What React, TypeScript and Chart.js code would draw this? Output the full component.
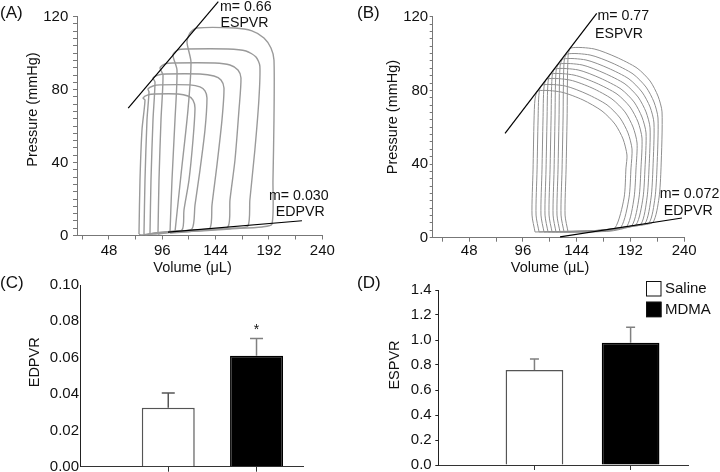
import React, { useEffect, useRef } from 'react';
import { Chart, registerables } from 'chart.js';

Chart.register(...registerables);

const FONT = '"Liberation Sans", Arial, Helvetica, sans-serif';
Chart.defaults.font.family = FONT;
Chart.defaults.color = '#111';

// ---------------- Panel A : PV loops, saline ----------------
const A_X_TICKS = [24, 48, 72, 96, 120, 144, 168, 192, 216, 240];
const A_X_LABELS = [48, 96, 144, 192, 240];
const PV_Y_LABELS = [0, 40, 80, 120];

const A_LOOP_1 = [[107.4,1.9],[112.8,33.2],[119.1,68.9],[121.8,95.1],[118.2,106.1],[120.9,111.1],[127.2,113.8],[161.4,113.8],[176.7,112.2],[187.5,108.3],[193.8,102.8],[196.5,96.2],[196.5,63.4],[195.6,30.5],[194.7,6.3],[185.7,4.7],[156.9,3.6],[129.9,2.5]];
const A_LOOP_2 = [[102.9,1.4],[104.7,30.4],[107.4,63.4],[109.2,90.8],[105.6,99.0],[110.1,101.8],[117.3,102.3],[155.1,102.3],[171.3,101.2],[180.3,97.9],[183.8,92.9],[182.9,74.3],[179.3,46.9],[174.8,19.5],[173.1,5.2],[161.4,4.1],[134.4,3.0],[116.4,1.9]];
const A_LOOP_3 = [[92.1,0.8],[93.0,30.4],[94.8,63.4],[96.6,88.0],[93.9,91.9],[98.4,94.1],[105.6,94.6],[143.4,94.6],[156.9,93.5],[164.1,90.8],[166.8,86.4],[165.0,68.9],[161.4,41.4],[156.9,19.5],[155.1,4.7],[138.9,3.6],[116.4,2.5],[98.4,1.4]];
const A_LOOP_4 = [[84.9,0.8],[85.8,30.4],[87.6,63.4],[89.4,84.2],[87.6,86.4],[92.1,88.0],[99.3,88.6],[129.9,88.6],[142.5,87.5],[148.8,85.3],[151.5,80.9],[149.7,63.4],[145.2,38.7],[140.7,16.7],[138.9,4.1],[125.4,3.0],[102.9,1.9],[89.4,0.8]];
const A_LOOP_5 = [[79.5,0.8],[80.4,30.4],[82.2,63.4],[84.0,78.7],[83.1,80.4],[87.6,82.0],[93.9,82.6],[120.9,82.6],[129.9,81.5],[134.4,79.3],[136.2,75.4],[134.4,57.9],[129.9,35.9],[125.4,16.7],[122.7,3.6],[107.4,2.5],[89.4,1.4],[81.3,0.3]];
const A_LOOP_6 = [[75.0,0.8],[75.9,30.4],[77.7,57.9],[80.4,74.3],[78.6,75.4],[83.1,77.1],[89.4,77.6],[110.1,77.6],[119.1,76.5],[123.6,74.3],[125.4,69.9],[123.6,52.4],[120.0,30.4],[115.5,14.0],[113.7,3.0],[98.4,1.9],[83.1,0.8],[76.8,0.3]];
const A_LOOPS = [A_LOOP_1, A_LOOP_2, A_LOOP_3, A_LOOP_4, A_LOOP_5, A_LOOP_6];
const A_ESPVR = [[65.3, 69.8], [146.4, 128.3]];
const A_EDPVR = [[101.1, 1.9], [221.7, 8.1]];

// ---------------- Panel B : PV loops, MDMA ----------------
const B_X_TICKS = [24, 48, 72, 96, 120, 144, 168, 192, 216, 240];
const B_X_LABELS = [48, 96, 144, 192, 240];

const B_LOOP_1 = [[136.3,3.1],[133.6,12.3],[134.5,36.8],[135.4,63.9],[136.3,98.7],[138.9,103.0],[159.5,102.5],[179.1,98.1],[197.9,92.1],[209.5,85.1],[216.6,76.9],[220.2,68.3],[219.3,37.9],[217.5,21.6],[212.1,8.4],[198.8,6.9],[174.6,3.6]];
const B_LOOP_2 = [[132.7,3.1],[130.0,12.3],[130.9,36.8],[131.8,63.9],[132.7,95.4],[135.4,99.7],[155.9,99.2],[175.5,94.9],[194.3,88.9],[205.9,81.8],[213.0,73.7],[216.6,65.0],[215.7,37.9],[213.9,21.6],[208.6,8.0],[195.2,6.6],[171.1,3.6]];
const B_LOOP_3 = [[129.1,3.1],[126.4,12.3],[127.3,36.8],[128.2,63.9],[129.1,92.7],[131.8,97.0],[152.3,96.5],[172.0,92.1],[190.7,86.2],[202.3,79.1],[209.5,71.0],[213.0,62.3],[212.1,37.9],[210.4,21.6],[205.0,7.7],[191.6,6.2],[167.5,3.6]];
const B_LOOP_4 = [[125.5,3.1],[122.9,12.3],[123.8,36.8],[124.6,63.9],[125.5,90.0],[128.2,94.3],[148.8,93.8],[168.4,89.4],[187.1,83.5],[198.8,76.4],[205.9,68.3],[209.5,59.6],[208.6,37.9],[206.8,21.6],[201.4,7.4],[188.0,5.9],[163.9,3.6]];
const B_LOOP_5 = [[122.0,3.1],[119.3,12.3],[120.2,36.8],[121.1,63.9],[122.0,87.3],[124.6,91.6],[145.2,91.1],[164.8,86.7],[183.6,80.7],[195.2,73.7],[202.3,65.5],[205.9,56.9],[205.0,37.9],[203.2,21.6],[197.0,7.0],[183.6,5.5],[160.4,3.6]];
const B_LOOP_6 = [[118.4,3.1],[115.7,12.3],[116.6,36.8],[117.5,63.9],[118.4,84.5],[121.1,88.9],[141.6,88.3],[161.3,84.0],[180.0,78.0],[191.6,71.0],[198.8,62.8],[202.3,54.1],[201.4,37.9],[199.6,21.6],[193.4,6.7],[180.0,5.2],[156.8,3.6]];
const B_LOOP_7 = [[114.8,3.1],[112.1,12.3],[113.0,36.8],[113.9,63.9],[114.8,81.8],[117.5,86.2],[138.0,85.6],[157.7,81.3],[175.5,75.3],[187.1,68.3],[194.3,60.1],[197.9,51.4],[197.0,37.9],[195.2,21.6],[188.9,6.3],[175.5,4.8],[153.2,3.6]];
const B_LOOP_8 = [[110.4,3.1],[107.7,12.3],[108.6,36.8],[109.5,63.9],[110.4,78.6],[113.0,82.9],[133.6,82.4],[153.2,78.0],[171.1,72.1],[182.7,65.0],[189.8,56.9],[193.4,48.2],[192.5,37.9],[190.7,21.6],[183.6,5.8],[170.2,4.3],[148.8,3.6]];
const B_LOOP_9 = [[106.8,3.1],[104.1,12.3],[105.0,36.8],[105.9,63.9],[106.8,75.3],[109.5,79.7],[130.0,79.1],[149.6,74.8],[166.6,68.8],[178.2,61.7],[185.4,53.6],[188.9,44.9],[188.0,37.9],[186.3,21.6],[178.2,5.3],[164.8,3.9],[145.2,3.6]];
const B_LOOPS = [B_LOOP_1, B_LOOP_2, B_LOOP_3, B_LOOP_4, B_LOOP_5, B_LOOP_6, B_LOOP_7, B_LOOP_8, B_LOOP_9];
const B_ESPVR = [[80.0, 56.7], [161.9, 121.8]];
const B_EDPVR = [[129.1, 0.4], [238.0, 10.7]];

// ---------------- Panels C & D : bars ----------------
const GROUPS = ['Saline', 'MDMA'];
const GROUP_POS = [1, 2];
const GROUP_FILL = ['#ffffff', '#000000'];
const GROUP_BORDER = ['#555555', '#000000'];

const C_VALUES = [0.0325, 0.061];
const C_ERRORS = [0.008, 0.0096];
const C_SIGNIFICANT = [false, true];
const C_Y_TICKS = [0, 0.02, 0.04, 0.06, 0.08, 0.1];

const D_VALUES = [0.76, 0.978];
const D_ERRORS = [0.088, 0.124];
const D_SIGNIFICANT = [false, false];
const D_Y_TICKS = [0, 0.2, 0.4, 0.6, 0.8, 1.0, 1.2, 1.4];

// ---------------- plugins ----------------
function makeTextPlugin(items: any[], left: number, top: number) {
  return {
    id: 'panelText',
    afterDraw(chart: any) {
      const ctx = chart.ctx as CanvasRenderingContext2D;
      for (const it of items) {
        ctx.save();
        ctx.font = `${it.size}px ${FONT}`;
        ctx.fillStyle = '#111';
        ctx.textAlign = it.align || 'center';
        ctx.textBaseline = 'middle';
        ctx.translate(it.x - left, it.y - top);
        if (it.rotate) ctx.rotate(it.rotate);
        ctx.fillText(it.text, 0, 0);
        ctx.restore();
      }
    },
  };
}

function makeErrorBarPlugin(cap: number) {
  return {
    id: 'errorBars',
    afterDatasetsDraw(chart: any) {
      const ctx = chart.ctx as CanvasRenderingContext2D;
      const yScale = chart.scales.y;
      chart.data.datasets.forEach((ds: any, di: number) => {
        const meta = chart.getDatasetMeta(di);
        meta.data.forEach((bar: any, j: number) => {
          const value = ds.data[j].y;
          const base = yScale.getPixelForValue(value);
          const topPx = yScale.getPixelForValue(value + ds.errors[j]);
          ctx.save();
          ctx.strokeStyle = ds.errorColor;
          ctx.lineWidth = 1.5;
          ctx.beginPath();
          ctx.moveTo(bar.x, base);
          ctx.lineTo(bar.x, topPx);
          ctx.moveTo(bar.x - cap / 2, topPx);
          ctx.lineTo(bar.x + cap / 2, topPx);
          ctx.stroke();
          if (ds.significant && ds.significant[j]) {
            ctx.fillStyle = '#111';
            ctx.font = `14px ${FONT}`;
            ctx.textAlign = 'center';
            ctx.textBaseline = 'middle';
            ctx.fillText('*', bar.x, topPx - 8);
          }
          ctx.restore();
        });
      });
    },
  };
}

function makeLegendPlugin(pos: any, left: number, top: number) {
  return {
    id: 'boxLegend',
    afterDraw(chart: any) {
      const ctx = chart.ctx as CanvasRenderingContext2D;
      chart.data.datasets.forEach((ds: any, i: number) => {
        const x = pos.x - left;
        const y = pos.y - top + i * pos.row;
        ctx.save();
        ctx.fillStyle = ds.backgroundColor;
        ctx.fillRect(x, y, pos.box, pos.box);
        ctx.strokeStyle = '#111';
        ctx.lineWidth = 1;
        ctx.strokeRect(x + 0.5, y + 0.5, pos.box - 1, pos.box - 1);
        ctx.fillStyle = '#111';
        ctx.font = `15px ${FONT}`;
        ctx.textAlign = 'left';
        ctx.textBaseline = 'middle';
        ctx.fillText(ds.label, x + pos.box + 3.5, y + pos.box / 2 + 0.5);
        ctx.restore();
      });
    },
  };
}

// keep the chart area exactly where it is specified
function fixY(width: number) {
  return (s: any) => { s.width = width; s.paddingTop = 0; s.paddingBottom = 0; };
}
function fixX(height: number) {
  return (s: any) => { s.height = height; s.paddingLeft = 0; s.paddingRight = 0; };
}

// ---------------- configs ----------------
function pvConfig(p: any) {
  const lineStyle = { showLine: true, pointRadius: 0, pointHoverRadius: 0, pointHitRadius: 0, fill: false };
  const datasets: any[] = [
    { label: 'ESPVR', data: p.espvr.map(([x, y]: number[]) => ({ x, y })), borderColor: '#000', borderWidth: 1.2, tension: 0, clip: false, ...lineStyle },
    { label: 'EDPVR', data: p.edpvr.map(([x, y]: number[]) => ({ x, y })), borderColor: '#000', borderWidth: 1.2, tension: 0, clip: false, ...lineStyle },
    ...p.loops.map((loop: number[][], i: number) => ({
      label: `loop ${i + 1}`,
      data: [...loop, loop[0]].map(([x, y]) => ({ x, y })),
      borderColor: p.loopColor,
      borderWidth: p.loopWidth,
      tension: 0.25,
      ...lineStyle,
    })),
  ];
  return {
    type: 'scatter',
    data: { datasets },
    options: {
      responsive: false,
      animation: false,
      events: [],
      layout: { padding: { left: 0, top: p.area.top, right: p.width - p.area.right, bottom: 0 } },
      plugins: { legend: { display: false }, tooltip: { enabled: false } },
      scales: {
        x: {
          type: 'linear',
          min: p.xMin,
          max: 240,
          offset: false,
          afterBuildTicks: (s: any) => { s.ticks = p.xTicks.map((v: number) => ({ value: v })); },
          afterFit: fixX(p.height - p.area.bottom),
          grid: { drawOnChartArea: false, drawTicks: true, tickLength: 4, color: p.axisColor, offset: false },
          border: { display: true, color: p.axisColor, width: 1 },
          ticks: {
            autoSkip: false, maxRotation: 0, padding: p.xPad, font: { size: 15 }, color: '#111',
            callback: (v: number) => (p.xLabels.includes(v) ? String(v) : ''),
          },
        },
        y: {
          type: 'linear',
          min: 0,
          max: 120,
          afterFit: fixY(p.area.left),
          grid: { drawOnChartArea: false, drawTicks: true, tickLength: p.yTickLen, color: p.axisColor },
          border: { display: true, color: p.axisColor, width: 1 },
          ticks: {
            stepSize: 4, maxTicksLimit: 100, autoSkip: false, padding: p.yPad, font: { size: 15 }, color: '#111',
            callback: (v: number) => (PV_Y_LABELS.includes(v) ? String(v) : ''),
          },
        },
      },
    },
    plugins: [makeTextPlugin(p.texts, p.left, p.top)],
  };
}

function barConfig(p: any) {
  const datasets = GROUPS.map((g, i) => ({
    label: g,
    data: [{ x: GROUP_POS[i], y: p.values[i] }],
    errors: [p.errors[i]],
    significant: [p.significant[i]],
    errorColor: p.errorColors[i],
    backgroundColor: GROUP_FILL[i],
    borderColor: GROUP_BORDER[i],
    borderWidth: 1.5,
    borderSkipped: 'start',
    grouped: false,
    barPercentage: 0.6,
    categoryPercentage: 1,
  }));
  return {
    type: 'bar',
    data: { datasets },
    options: {
      responsive: false,
      animation: false,
      events: [],
      layout: { padding: { left: 0, top: p.area.top, right: p.width - p.area.right, bottom: 0 } },
      plugins: { legend: { display: false }, tooltip: { enabled: false } },
      scales: {
        x: {
          type: 'linear',
          min: 0,
          max: p.xMax,
          offset: false,
          afterBuildTicks: (s: any) => { s.ticks = GROUP_POS.map((v) => ({ value: v })); },
          afterFit: fixX(p.height - p.area.bottom),
          grid: { drawOnChartArea: false, drawTicks: true, tickLength: 5, color: '#333', offset: false },
          border: { display: true, color: '#333', width: 1 },
          ticks: { display: false },
        },
        y: {
          type: 'linear',
          min: 0,
          max: p.yTicks[p.yTicks.length - 1],
          afterBuildTicks: (s: any) => { s.ticks = p.yTicks.map((v: number) => ({ value: v })); },
          afterFit: fixY(p.area.left),
          grid: { drawOnChartArea: false, drawTicks: p.yTickLen > 0, tickLength: p.yTickLen, color: '#222' },
          border: { display: true, color: '#222', width: 1 },
          ticks: {
            autoSkip: false, padding: p.yPad, font: { size: 15 }, color: '#111',
            callback: (v: number) => v.toFixed(p.decimals),
          },
        },
      },
    },
    plugins: [
      makeErrorBarPlugin(p.cap),
      makeTextPlugin(p.texts, p.left, p.top),
      ...(p.legend ? [makeLegendPlugin(p.legend, p.left, p.top)] : []),
    ],
  };
}

const ROT = -Math.PI / 2;

const PANEL_A = {
  left: 0, top: 0, width: 350, height: 280,
  area: { left: 77, right: 322.3, top: 16.7, bottom: 235.5 },
  xMin: 19.2, xTicks: A_X_TICKS, xLabels: A_X_LABELS, xPad: 2, yTickLen: 4, yPad: 4.7,
  loops: A_LOOPS, espvr: A_ESPVR, edpvr: A_EDPVR, loopColor: '#9a9a9a', loopWidth: 1.4, axisColor: '#777',
  texts: [
    { text: '(A)', x: 0, y: 13.3, size: 17, align: 'left' },
    { text: 'Pressure (mmHg)', x: 33.3, y: 109.5, size: 14.5, rotate: ROT },
    { text: 'Volume (μL)', x: 192.5, y: 268, size: 14.5 },
    { text: 'm= 0.66', x: 245.8, y: 6.7, size: 14.2 },
    { text: 'ESPVR', x: 244.5, y: 23, size: 14.2 },
    { text: 'm= 0.030', x: 298.8, y: 196, size: 14.2 },
    { text: 'EDPVR', x: 300.3, y: 212.5, size: 14.2 },
  ],
};

const PANEL_B = {
  left: 350, top: 0, width: 370, height: 280,
  area: { left: 82.7, right: 334.2, top: 16.7, bottom: 237.7 },
  xMin: 15.4, xTicks: B_X_TICKS, xLabels: B_X_LABELS, xPad: 0, yTickLen: 3, yPad: 1.5,
  loops: B_LOOPS, espvr: B_ESPVR, edpvr: B_EDPVR, loopColor: '#8f8f8f', loopWidth: 1, axisColor: '#777',
  texts: [
    { text: '(B)', x: 357, y: 13.3, size: 17, align: 'left' },
    { text: 'Pressure (mmHg)', x: 393, y: 117, size: 14.5, rotate: ROT },
    { text: 'Volume (μL)', x: 550, y: 268, size: 14.5 },
    { text: 'm= 0.77', x: 623.3, y: 15.8, size: 14.2 },
    { text: 'ESPVR', x: 619, y: 33.8, size: 14.2 },
    { text: 'm= 0.072', x: 689.5, y: 194, size: 14.2 },
    { text: 'EDPVR', x: 688.3, y: 211, size: 14.2 },
  ],
};

const PANEL_C = {
  left: 0, top: 272, width: 350, height: 200,
  area: { left: 80, right: 303.3, top: 13, bottom: 194.7 },
  xMax: 2.53, values: C_VALUES, errors: C_ERRORS, significant: C_SIGNIFICANT,
  errorColors: ['#555', '#808080'], cap: 13, yTicks: C_Y_TICKS, decimals: 2, yTickLen: 0, yPad: 1,
  texts: [
    { text: '(C)', x: 0, y: 283.5, size: 17, align: 'left' },
    { text: 'EDPVR', x: 35, y: 362.3, size: 14.5, rotate: ROT },
  ],
};

const PANEL_D = {
  left: 350, top: 272, width: 370, height: 200,
  area: { left: 88.3, right: 338.3, top: 18, bottom: 193 },
  xMax: 2.6, values: D_VALUES, errors: D_ERRORS, significant: D_SIGNIFICANT,
  errorColors: ['#808080', '#808080'], cap: 9, yTicks: D_Y_TICKS, decimals: 1, yTickLen: 3, yPad: 3.6,
  legend: { x: 646, y: 281, box: 15.5, row: 20.7 },
  texts: [
    { text: '(D)', x: 357, y: 283.3, size: 17, align: 'left' },
    { text: 'ESPVR', x: 395, y: 365, size: 14.5, rotate: ROT },
  ],
};

function Panel({ spec, make }: { spec: any; make: (p: any) => any }) {
  const ref = useRef<HTMLCanvasElement | null>(null);
  useEffect(() => {
    if (!ref.current) return;
    const chart = new Chart(ref.current, make(spec));
    return () => chart.destroy();
  }, []);
  return (
    <div style={{ position: 'absolute', left: spec.left, top: spec.top, width: spec.width, height: spec.height }}>
      <canvas ref={ref} width={spec.width} height={spec.height} style={{ display: 'block', width: spec.width, height: spec.height }} />
    </div>
  );
}

export default function App() {
  useEffect(() => {
    document.body.style.margin = '0';
  }, []);
  return (
    <div style={{ position: 'absolute', left: 0, top: 0, width: 720, height: 472, background: '#fff', overflow: 'hidden' }}>
      <Panel spec={PANEL_A} make={pvConfig} />
      <Panel spec={PANEL_B} make={pvConfig} />
      <Panel spec={PANEL_C} make={barConfig} />
      <Panel spec={PANEL_D} make={barConfig} />
    </div>
  );
}
